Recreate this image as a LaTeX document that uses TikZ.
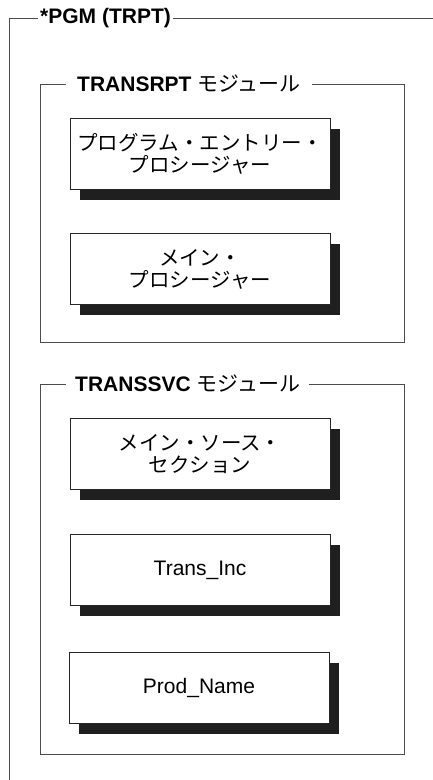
\documentclass[tikz,border=0pt]{standalone}
\usepackage{fontspec}
\setmainfont{Liberation Sans}
\newfontfamily\jp{Noto Sans CJK JP}
\usetikzlibrary{shadows}
\tikzset{
  frameline/.style={draw=black!70, line width=1pt},
  ttl/.style={font=\fontsize{21}{24}\selectfont, inner ysep=0pt, anchor=west, text=black},
  sbox/.style={draw=black!85, line width=1pt, fill=white, minimum width=260pt,
    minimum height=71pt, align=center, inner sep=0pt,
    font=\fontsize{20.5}{22}\selectfont\jp,
    drop shadow={shadow xshift=10pt, shadow yshift=-10pt, fill=black!88, opacity=1}},
  lbox/.style={sbox, font=\fontsize{21}{24}\selectfont}
}
\begin{document}
\begin{tikzpicture}[x=1pt,y=-1pt]
\useasboundingbox (0,0) rectangle (432,780);
% outer frame
\coordinate (ob) at (9,790);
\coordinate (otr) at (440,18);
\node[ttl, inner xsep=2pt] (ot) at (38,18) {\bfseries *PGM (TRPT)};
\draw[frameline] (ob) |- (ot.west);
\draw[frameline] (ot.east) -- (otr);
% TRANSRPT module
\coordinate (m1bl) at (40,342);
\coordinate (m1br) at (404,342);
\node[ttl, inner xsep=11pt] (t1) at (66,84) {\textbf{TRANSRPT} {\jp モジュール}};
\draw[frameline] (t1.west) -| (m1bl) -- (m1br) |- (t1.east);
\node[sbox] (b1) at (200,154) {プログラム・エントリー・\\プロシージャー};
\node[sbox] (b2) at (200,269) {メイン・\\プロシージャー};
% TRANSSVC module
\coordinate (m2bl) at (40,754);
\coordinate (m2br) at (404,754);
\node[ttl, inner xsep=9pt] (t2) at (66,384) {\textbf{TRANSSVC} {\jp モジュール}};
\draw[frameline] (t2.west) -| (m2bl) -- (m2br) |- (t2.east);
\node[sbox] (b3) at (200,454) {メイン・ソース・\\セクション};
\node[lbox] (b4) at (200,570) {Trans\_Inc};
\node[lbox] (b5) at (199,688) {Prod\_Name};
\end{tikzpicture}
\end{document}
